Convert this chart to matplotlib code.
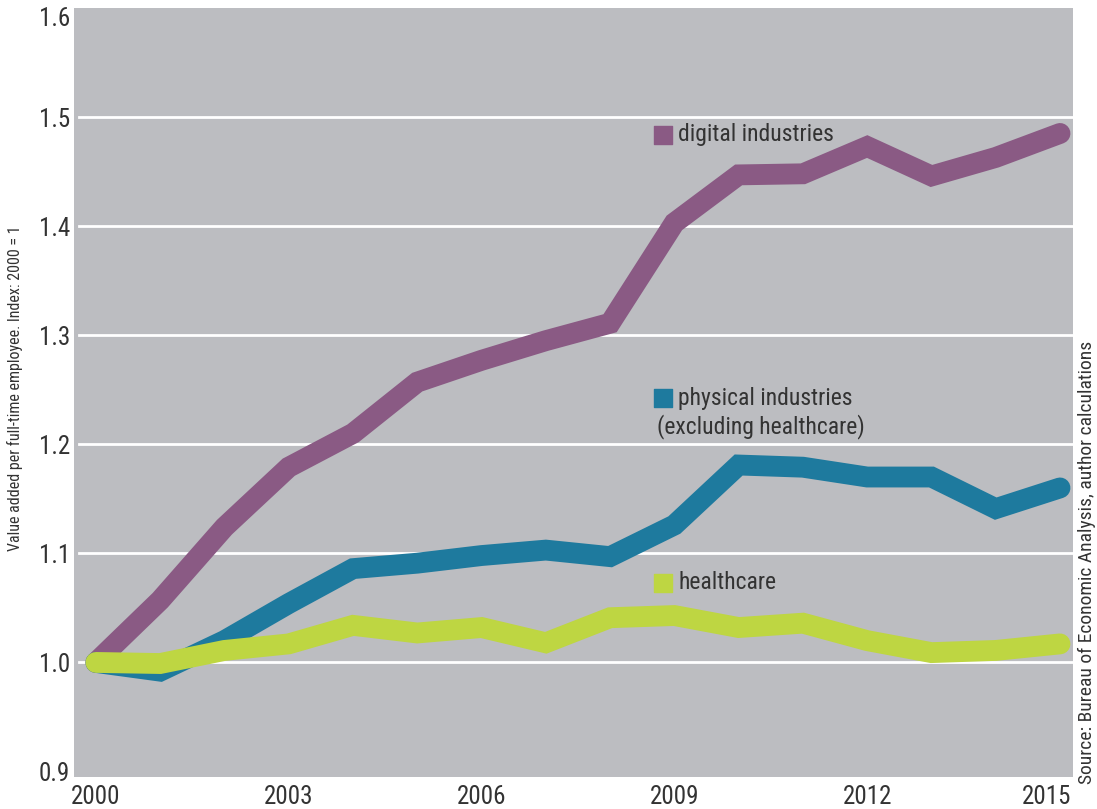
import matplotlib
matplotlib.use('Agg')
import matplotlib.pyplot as plt
from matplotlib import font_manager
from matplotlib.transforms import ScaledTranslation

# Index values (2000 = 1)
years = list(range(2000, 2016))
digital = [1.0, 1.057, 1.124, 1.179, 1.21, 1.257, 1.277, 1.295, 1.311, 1.403,
           1.447, 1.448, 1.473, 1.446, 1.463, 1.485]
physical = [1.0, 0.992, 1.02, 1.054, 1.086, 1.091, 1.098, 1.103, 1.097, 1.126,
            1.181, 1.179, 1.17, 1.17, 1.141, 1.16]
healthcare = [1.0, 0.999, 1.011, 1.017, 1.034, 1.027, 1.032, 1.018, 1.041, 1.043,
              1.032, 1.036, 1.02, 1.009, 1.011, 1.017]

xticks = [2000, 2003, 2006, 2009, 2012, 2015]
yticks = [0.9, 1.0, 1.1, 1.2, 1.3, 1.4, 1.5, 1.6]
gridlines = [1.0, 1.1, 1.2, 1.3, 1.4, 1.5]

purple = '#8a5a84'
blue = '#1e7a9e'
green = '#bed642'
bg = '#bcbdc1'
txt = '#333333'

# pick a condensed face if one is installed
names = {f.name for f in font_manager.fontManager.ttflist}
cands = ['Liberation Sans Narrow', 'Roboto Condensed', 'DejaVu Sans Condensed', 'Roboto']
fam = [c for c in cands if c in names][0]
plt.rcParams['font.family'] = [fam, 'DejaVu Sans']

fig = plt.figure(figsize=(10.97, 8.09), dpi=100)
ax = fig.add_axes([0.0675, 0.0396, 0.9105, 0.9505])
ax.set_facecolor(bg)

for y in gridlines:
    ax.axhline(y, xmin=0.005, xmax=1, color='white', lw=2, zorder=1)

lw = 15
for vals, col in [(digital, purple), (physical, blue), (healthcare, green)]:
    ax.plot(years, vals, color=col, lw=lw, solid_capstyle='round',
            solid_joinstyle='miter', zorder=3)

ax.set_xlim(1999.66, 2015.2)
ax.set_ylim(0.895, 1.6)
ax.set_xticks(xticks)
ax.set_xticklabels([str(x) for x in xticks])
ax.set_yticks(yticks)
ax.set_yticklabels([f'{y:.1f}' for y in yticks])
ax.tick_params(length=0, labelsize=18, colors=txt)
ax.tick_params(axis='x', pad=6)
ax.tick_params(axis='y', pad=3)
for s in ax.spines.values():
    s.set_visible(False)

# last year label sits flush with the plot's right edge
last = ax.get_xticklabels()[-1]
last.set_ha('right')
last.set_transform(last.get_transform() + ScaledTranslation(0.11, 0, fig.dpi_scale_trans))
# top y label is nudged down to stay inside the figure
top = ax.get_yticklabels()[-1]
top.set_transform(top.get_transform() + ScaledTranslation(0, -0.08, fig.dpi_scale_trans))

# inline legend: square marker + label
sq_x, tx_x = 2008.82, 2009.06
ax.scatter([sq_x], [1.484], marker='s', s=160, color=purple, zorder=4)
ax.text(tx_x, 1.484, 'digital industries', color=txt, fontsize=17, va='center', ha='left')
ax.scatter([sq_x], [1.242], marker='s', s=160, color=blue, zorder=4)
ax.text(tx_x, 1.242, 'physical industries', color=txt, fontsize=17, va='center', ha='left')
ax.text(2008.73, 1.216, '(excluding healthcare)', color=txt, fontsize=17, va='center', ha='left')
ax.scatter([sq_x], [1.073], marker='s', s=160, color=green, zorder=4)
ax.text(tx_x, 1.073, 'healthcare', color=txt, fontsize=17, va='center', ha='left')

fig.text(0.014, 0.52, 'Value added per full-time employee. Index: 2000 = 1',
         rotation=90, fontsize=11.5, color=txt, ha='center', va='center')
fig.text(0.991, 0.305, 'Source: Bureau of Economic Analysis, author calculations',
         rotation=90, fontsize=14, color=txt, ha='center', va='center')

fig.savefig('out.png', dpi=100)
